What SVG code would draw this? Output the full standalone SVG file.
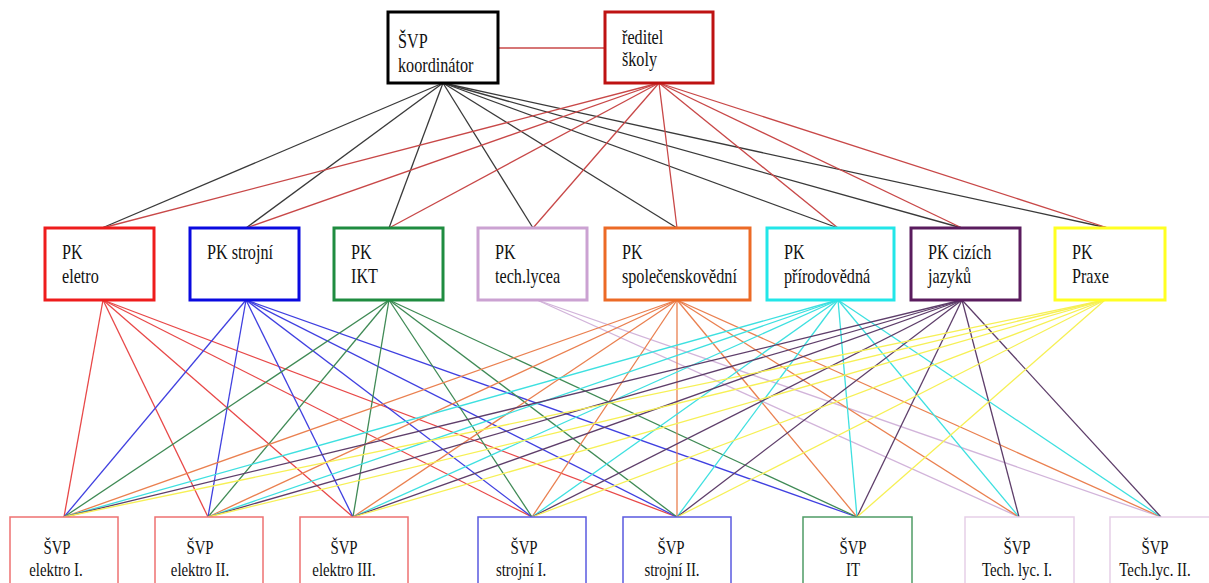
<svg xmlns="http://www.w3.org/2000/svg" width="1209" height="583" viewBox="0 0 1209 583">
<style>
.bx{fill:#fff;stroke-width:3}
.sb{fill:#fff;stroke-width:1.5}
.t{font-family:"Liberation Serif","Times New Roman",serif;font-size:21px;fill:#111}
.ts{font-family:"Liberation Serif","Times New Roman",serif;font-size:19px;fill:#111;text-anchor:middle}
#connectors line{stroke-width:1.3;fill:none}
.k{stroke:#3a3a3a}
.r0{stroke:#c84848}
.cr{stroke:#e84848}
.cb{stroke:#4040e0}
.cg{stroke:#3f8a55}
.cl{stroke:#d2b4da}
.co{stroke:#ea8050}
.cc{stroke:#3ee0e0}
.cp{stroke:#5e3e6a}
.cy{stroke:#f6f055}
</style>
<rect width="1209" height="583" fill="#fff"/>
<g id="connectors">
<line class="r0" x1="498" y1="48" x2="605" y2="48"/>
<line class="k" x1="443" y1="83" x2="102" y2="228"/>
<line class="k" x1="443" y1="83" x2="246" y2="228"/>
<line class="k" x1="443" y1="83" x2="389" y2="228"/>
<line class="k" x1="443" y1="83" x2="533" y2="228"/>
<line class="k" x1="443" y1="83" x2="677" y2="228"/>
<line class="k" x1="443" y1="83" x2="838" y2="228"/>
<line class="k" x1="443" y1="83" x2="962" y2="228"/>
<line class="k" x1="443" y1="83" x2="1108" y2="228"/>
<line class="r0" x1="659" y1="83" x2="102" y2="228"/>
<line class="r0" x1="659" y1="83" x2="246" y2="228"/>
<line class="r0" x1="659" y1="83" x2="389" y2="228"/>
<line class="r0" x1="659" y1="83" x2="533" y2="228"/>
<line class="r0" x1="659" y1="83" x2="677" y2="228"/>
<line class="r0" x1="659" y1="83" x2="838" y2="228"/>
<line class="r0" x1="659" y1="83" x2="962" y2="228"/>
<line class="r0" x1="659" y1="83" x2="1108" y2="228"/>
<line class="cl" x1="537" y1="300" x2="1019" y2="517"/>
<line class="cl" x1="537" y1="300" x2="1161" y2="517"/>
<line class="cr" x1="103" y1="300" x2="64" y2="517"/>
<line class="cr" x1="103" y1="300" x2="208" y2="517"/>
<line class="cr" x1="103" y1="300" x2="353" y2="517"/>
<line class="cr" x1="103" y1="300" x2="532" y2="517"/>
<line class="cr" x1="103" y1="300" x2="677" y2="517"/>
<line class="cb" x1="246" y1="300" x2="64" y2="517"/>
<line class="cb" x1="246" y1="300" x2="208" y2="517"/>
<line class="cb" x1="246" y1="300" x2="353" y2="517"/>
<line class="cb" x1="246" y1="300" x2="532" y2="517"/>
<line class="cb" x1="246" y1="300" x2="677" y2="517"/>
<line class="cb" x1="246" y1="300" x2="857" y2="517"/>
<line class="cg" x1="389" y1="300" x2="64" y2="517"/>
<line class="cg" x1="389" y1="300" x2="208" y2="517"/>
<line class="cg" x1="389" y1="300" x2="353" y2="517"/>
<line class="cg" x1="389" y1="300" x2="532" y2="517"/>
<line class="cg" x1="389" y1="300" x2="677" y2="517"/>
<line class="cg" x1="389" y1="300" x2="857" y2="517"/>
<line class="co" x1="677" y1="300" x2="64" y2="517"/>
<line class="co" x1="677" y1="300" x2="208" y2="517"/>
<line class="co" x1="677" y1="300" x2="353" y2="517"/>
<line class="co" x1="677" y1="300" x2="532" y2="517"/>
<line class="co" x1="677" y1="300" x2="677" y2="517"/>
<line class="co" x1="677" y1="300" x2="857" y2="517"/>
<line class="co" x1="677" y1="300" x2="1019" y2="517"/>
<line class="co" x1="677" y1="300" x2="1161" y2="517"/>
<line class="cc" x1="838" y1="300" x2="64" y2="517"/>
<line class="cc" x1="838" y1="300" x2="208" y2="517"/>
<line class="cc" x1="838" y1="300" x2="353" y2="517"/>
<line class="cc" x1="838" y1="300" x2="532" y2="517"/>
<line class="cc" x1="838" y1="300" x2="677" y2="517"/>
<line class="cc" x1="838" y1="300" x2="857" y2="517"/>
<line class="cc" x1="838" y1="300" x2="1019" y2="517"/>
<line class="cc" x1="838" y1="300" x2="1161" y2="517"/>
<line class="cp" x1="962" y1="300" x2="64" y2="517"/>
<line class="cp" x1="962" y1="300" x2="208" y2="517"/>
<line class="cp" x1="962" y1="300" x2="353" y2="517"/>
<line class="cp" x1="962" y1="300" x2="532" y2="517"/>
<line class="cp" x1="962" y1="300" x2="677" y2="517"/>
<line class="cp" x1="962" y1="300" x2="857" y2="517"/>
<line class="cp" x1="962" y1="300" x2="1019" y2="517"/>
<line class="cp" x1="962" y1="300" x2="1161" y2="517"/>
<line class="cy" x1="1105" y1="300" x2="64" y2="517"/>
<line class="cy" x1="1105" y1="300" x2="208" y2="517"/>
<line class="cy" x1="1105" y1="300" x2="353" y2="517"/>
<line class="cy" x1="1105" y1="300" x2="532" y2="517"/>
<line class="cy" x1="1105" y1="300" x2="677" y2="517"/>
<line class="cy" x1="1105" y1="300" x2="857" y2="517"/>
</g>
<g id="svp-koordinator">
<rect class="bx" x="388" y="12" width="110" height="71" stroke="#000"/>
<text class="t" transform="matrix(0.77 0 0 1 398 48)">ŠVP</text>
<text class="t" transform="matrix(0.77 0 0 1 398 72)">koordinátor</text>
</g>
<g id="reditel-skoly">
<rect class="bx" x="605" y="12" width="108" height="71" stroke="#be1212"/>
<text class="t" transform="matrix(0.77 0 0 1 622 44)">ředitel</text>
<text class="t" transform="matrix(0.77 0 0 1 622 66)">školy</text>
</g>
<g id="pk-eletro">
<rect class="bx" x="45" y="228" width="109" height="72" stroke="#ee1c1c"/>
<text class="t" transform="matrix(0.77 0 0 1 62 259)">PK</text>
<text class="t" transform="matrix(0.77 0 0 1 62 283)">eletro</text>
</g>
<g id="pk-strojni">
<rect class="bx" x="190" y="228" width="109" height="72" stroke="#0a0ae0"/>
<text class="t" transform="matrix(0.77 0 0 1 207 259)">PK strojní</text>
</g>
<g id="pk-ikt">
<rect class="bx" x="334" y="228" width="109" height="72" stroke="#1f8c40"/>
<text class="t" transform="matrix(0.77 0 0 1 351 259)">PK</text>
<text class="t" transform="matrix(0.77 0 0 1 351 283)">IKT</text>
</g>
<g id="pk-tech-lycea">
<rect class="bx" x="478" y="228" width="109" height="72" stroke="#cba2d2"/>
<text class="t" transform="matrix(0.77 0 0 1 495 259)">PK</text>
<text class="t" transform="matrix(0.77 0 0 1 495 283)">tech.lycea</text>
</g>
<g id="pk-spolecenskovedni">
<rect class="bx" x="605" y="228" width="145" height="72" stroke="#ec6a26"/>
<text class="t" transform="matrix(0.77 0 0 1 622 259)">PK</text>
<text class="t" transform="matrix(0.77 0 0 1 622 283)">společenskovědní</text>
</g>
<g id="pk-prirodovedna">
<rect class="bx" x="767" y="228" width="127" height="72" stroke="#22e6e8"/>
<text class="t" transform="matrix(0.77 0 0 1 784 259)">PK</text>
<text class="t" transform="matrix(0.77 0 0 1 784 283)">přírodovědná</text>
</g>
<g id="pk-cizich-jazyku">
<rect class="bx" x="911" y="228" width="109" height="72" stroke="#5a1c5e"/>
<text class="t" transform="matrix(0.77 0 0 1 928 259)">PK cizích</text>
<text class="t" transform="matrix(0.77 0 0 1 928 283)">jazyků</text>
</g>
<g id="pk-praxe">
<rect class="bx" x="1055" y="228" width="110" height="72" stroke="#ffff22"/>
<text class="t" transform="matrix(0.77 0 0 1 1072 259)">PK</text>
<text class="t" transform="matrix(0.77 0 0 1 1072 283)">Praxe</text>
</g>
<g id="svp-elektro-1">
<rect class="sb" x="10" y="517" width="108" height="80" stroke="#ee7272"/>
<text class="ts" transform="matrix(0.78 0 0 1 57 554)">ŠVP</text>
<text class="ts" transform="matrix(0.78 0 0 1 56 576)">elektro I.</text>
</g>
<g id="svp-elektro-2">
<rect class="sb" x="155" y="517" width="108" height="80" stroke="#ee7272"/>
<text class="ts" transform="matrix(0.78 0 0 1 200 554)">ŠVP</text>
<text class="ts" transform="matrix(0.78 0 0 1 200 576)">elektro II.</text>
</g>
<g id="svp-elektro-3">
<rect class="sb" x="300" y="517" width="108" height="80" stroke="#ee7272"/>
<text class="ts" transform="matrix(0.78 0 0 1 344 554)">ŠVP</text>
<text class="ts" transform="matrix(0.78 0 0 1 344 576)">elektro III.</text>
</g>
<g id="svp-strojni-1">
<rect class="sb" x="478" y="517" width="108" height="80" stroke="#5a5ae0"/>
<text class="ts" transform="matrix(0.78 0 0 1 524 554)">ŠVP</text>
<text class="ts" transform="matrix(0.78 0 0 1 521 576)">strojní I.</text>
</g>
<g id="svp-strojni-2">
<rect class="sb" x="623" y="517" width="108" height="80" stroke="#5a5ae0"/>
<text class="ts" transform="matrix(0.78 0 0 1 671 554)">ŠVP</text>
<text class="ts" transform="matrix(0.78 0 0 1 672 576)">strojní II.</text>
</g>
<g id="svp-it">
<rect class="sb" x="803" y="517" width="109" height="80" stroke="#4f9c66"/>
<text class="ts" transform="matrix(0.78 0 0 1 853 554)">ŠVP</text>
<text class="ts" transform="matrix(0.78 0 0 1 853 576)">IT</text>
</g>
<g id="svp-tech-lyc-1">
<rect class="sb" x="965" y="517" width="109" height="80" stroke="#e6cfe8"/>
<text class="ts" transform="matrix(0.78 0 0 1 1017 554)">ŠVP</text>
<text class="ts" transform="matrix(0.78 0 0 1 1017 576)">Tech. lyc. I.</text>
</g>
<g id="svp-tech-lyc-2">
<rect class="sb" x="1110" y="517" width="108" height="80" stroke="#e6cfe8"/>
<text class="ts" transform="matrix(0.78 0 0 1 1155 554)">ŠVP</text>
<text class="ts" transform="matrix(0.78 0 0 1 1155 576)">Tech.lyc. II.</text>
</g>
</svg>
